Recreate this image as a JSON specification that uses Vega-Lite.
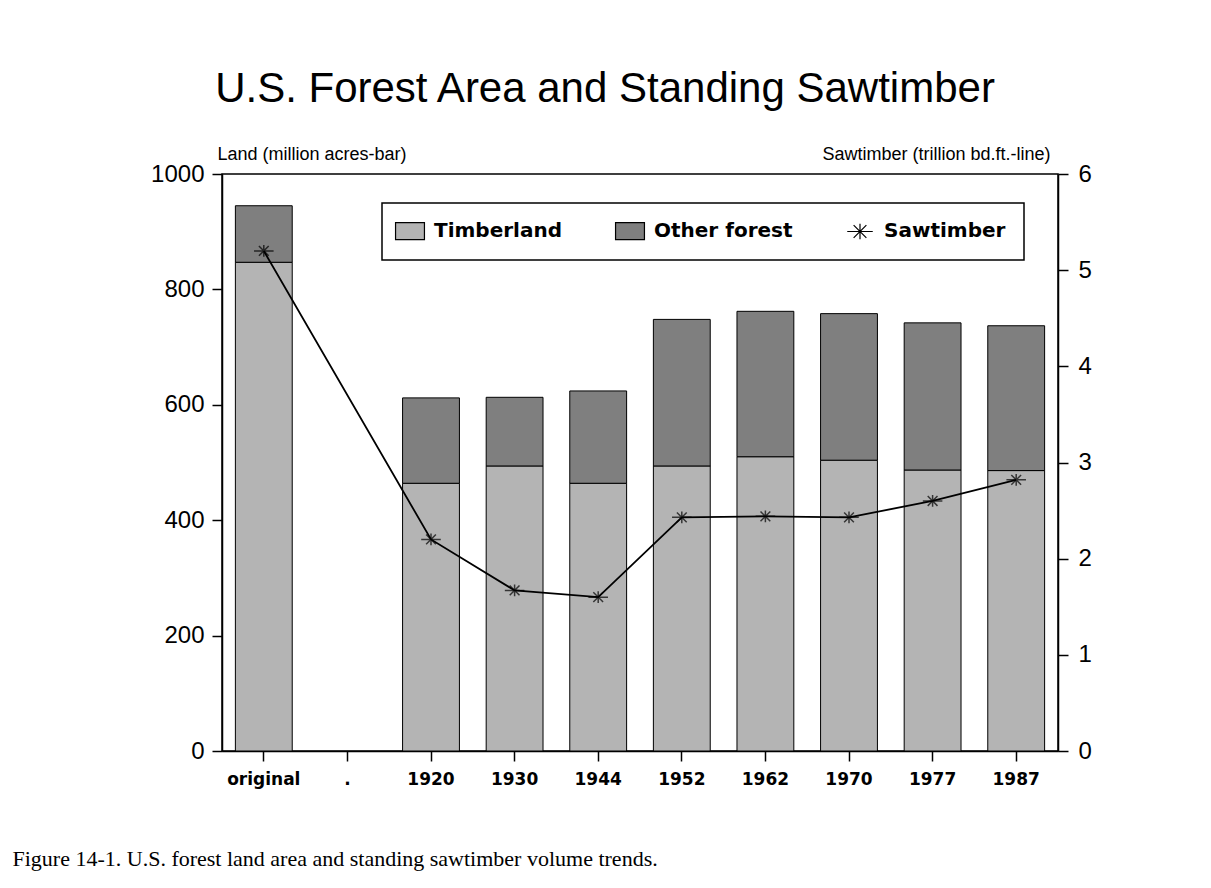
{
  "$schema": "https://vega.github.io/schema/vega-lite/v6.json",
  "width": 836,
  "height": 577,
  "autosize": {"type": "none"},
  "padding": {"left": 222, "top": 174, "right": 153, "bottom": 137},
  "background": "white",
  "title": {
    "text": "U.S. Forest Area and Standing Sawtimber",
    "anchor": "middle",
    "frame": "group",
    "dx": -35,
    "font": "Liberation Sans",
    "fontSize": 42,
    "fontWeight": "normal",
    "color": "black",
    "offset": 34
  },
  "datasets": {
    "land": [
      {"period": "original", "series": "Timberland", "acres": 847},
      {"period": "original", "series": "Other forest", "acres": 98},
      {"period": "1920", "series": "Timberland", "acres": 464},
      {"period": "1920", "series": "Other forest", "acres": 148},
      {"period": "1930", "series": "Timberland", "acres": 494},
      {"period": "1930", "series": "Other forest", "acres": 119},
      {"period": "1944", "series": "Timberland", "acres": 464},
      {"period": "1944", "series": "Other forest", "acres": 160},
      {"period": "1952", "series": "Timberland", "acres": 494},
      {"period": "1952", "series": "Other forest", "acres": 254},
      {"period": "1962", "series": "Timberland", "acres": 510},
      {"period": "1962", "series": "Other forest", "acres": 252},
      {"period": "1970", "series": "Timberland", "acres": 504},
      {"period": "1970", "series": "Other forest", "acres": 254},
      {"period": "1977", "series": "Timberland", "acres": 487},
      {"period": "1977", "series": "Other forest", "acres": 255},
      {"period": "1987", "series": "Timberland", "acres": 486},
      {"period": "1987", "series": "Other forest", "acres": 251}
    ],
    "saw": [
      {"period": "original", "series": "Sawtimber", "bdft": 5.2},
      {"period": "1920", "series": "Sawtimber", "bdft": 2.2},
      {"period": "1930", "series": "Sawtimber", "bdft": 1.67},
      {"period": "1944", "series": "Sawtimber", "bdft": 1.6},
      {"period": "1952", "series": "Sawtimber", "bdft": 2.43},
      {"period": "1962", "series": "Sawtimber", "bdft": 2.44},
      {"period": "1970", "series": "Sawtimber", "bdft": 2.43},
      {"period": "1977", "series": "Sawtimber", "bdft": 2.6},
      {"period": "1987", "series": "Sawtimber", "bdft": 2.82}
    ]
  },
  "encoding": {
    "x": {
      "field": "period",
      "type": "nominal",
      "sort": null,
      "scale": {
        "domain": ["original", ".", "1920", "1930", "1944", "1952", "1962", "1970", "1977", "1987"],
        "paddingInner": 0.32,
        "paddingOuter": 0.16
      },
      "axis": {
        "orient": "bottom",
        "labelAngle": 0,
        "labelFont": "DejaVu Sans",
        "labelFontWeight": "bold",
        "labelFontSize": 17,
        "labelColor": "black",
        "labelPadding": 10,
        "tickSize": 10,
        "tickColor": "black",
        "tickWidth": 1.5,
        "domainColor": "black",
        "domainWidth": 1.5,
        "title": "Figure 14-1. U.S. forest land area and standing sawtimber volume trends.",
        "titleFont": "Liberation Serif",
        "titleFontSize": 22,
        "titleFontWeight": "normal",
        "titleColor": "black",
        "titleAlign": "left",
        "titleAnchor": "start",
        "titleBaseline": "middle",
        "titleX": -210,
        "titleY": 107
      }
    }
  },
  "layer": [
    {
      "data": {"name": "land"},
      "mark": {"type": "bar", "stroke": "black", "strokeWidth": 1},
      "encoding": {
        "y": {
          "field": "acres",
          "type": "quantitative",
          "stack": "zero",
          "scale": {"domain": [0, 1000], "nice": false},
          "axis": {
            "orient": "left",
            "values": [0, 200, 400, 600, 800, 1000],
            "format": "d",
            "grid": false,
            "labelFont": "Liberation Sans",
            "labelFontSize": 24,
            "labelColor": "black",
            "labelPadding": 8,
            "tickSize": 10,
            "tickColor": "black",
            "tickWidth": 1.5,
            "domainColor": "black",
            "domainWidth": 1.5,
            "title": "Land (million acres-bar)",
            "titleFont": "Liberation Sans",
            "titleFontSize": 18,
            "titleFontWeight": "normal",
            "titleColor": "black",
            "titleAngle": 0,
            "titleAlign": "left",
            "titleBaseline": "middle",
            "titleX": -5,
            "titleY": -20
          }
        },
        "color": {
          "field": "series",
          "type": "nominal",
          "scale": {
            "domain": ["Timberland", "Other forest", "Sawtimber"],
            "range": ["#b4b4b4", "#7f7f7f", "black"]
          },
          "legend": {"title": null}
        },
        "order": {"field": "series", "sort": "descending"}
      }
    },
    {
      "data": {"name": "saw"},
      "mark": {"type": "line", "color": "black", "strokeWidth": 1.8},
      "encoding": {
        "y": {
          "field": "bdft",
          "type": "quantitative",
          "scale": {"domain": [0, 6], "nice": false},
          "axis": {
            "orient": "right",
            "values": [0, 1, 2, 3, 4, 5, 6],
            "grid": false,
            "labelFont": "Liberation Sans",
            "labelFontSize": 24,
            "labelColor": "black",
            "labelPadding": 10,
            "tickSize": 10,
            "tickColor": "black",
            "tickWidth": 1.5,
            "domainColor": "black",
            "domainWidth": 1.5,
            "title": "Sawtimber (trillion bd.ft.-line)",
            "titleFont": "Liberation Sans",
            "titleFontSize": 18,
            "titleFontWeight": "normal",
            "titleColor": "black",
            "titleAngle": 0,
            "titleAlign": "right",
            "titleBaseline": "middle",
            "titleX": -8,
            "titleY": -20
          }
        }
      }
    },
    {
      "data": {"name": "saw"},
      "mark": {"type": "point", "filled": false, "color": "black", "strokeWidth": 1.5, "size": 170},
      "encoding": {
        "y": {"field": "bdft", "type": "quantitative", "scale": {"domain": [0, 6], "nice": false}, "axis": null},
        "shape": {
          "field": "series",
          "type": "nominal",
          "scale": {
            "domain": ["Timberland", "Other forest", "Sawtimber"],
            "range": [
              "M-1.7,-1H1.7V1H-1.7Z",
              "M-1.7,-1H1.7V1H-1.7Z",
              "M-1.5,0H1.5M0,-0.9V0.9M-0.75,-0.75L0.75,0.75M-0.75,0.75L0.75,-0.75"
            ]
          },
          "legend": {"title": null}
        }
      }
    }
  ],
  "resolve": {"scale": {"y": "independent"}},
  "config": {
    "view": {"stroke": "black", "strokeWidth": 1.5},
    "legend": {
      "orient": "none",
      "legendX": 160,
      "legendY": 29,
      "direction": "horizontal",
      "fillColor": "white",
      "strokeColor": "black",
      "strokeWidth": 1.5,
      "padding": 18,
      "symbolSize": 289,
      "symbolOpacity": 1,
      "symbolStrokeColor": "black",
      "symbolStrokeWidth": 1.2,
      "labelFont": "DejaVu Sans",
      "labelFontWeight": "bold",
      "labelFontSize": 20,
      "labelColor": "black",
      "labelOffset": 14,
      "columnPadding": 51,
      "labelLimit": 300
    }
  }
}
